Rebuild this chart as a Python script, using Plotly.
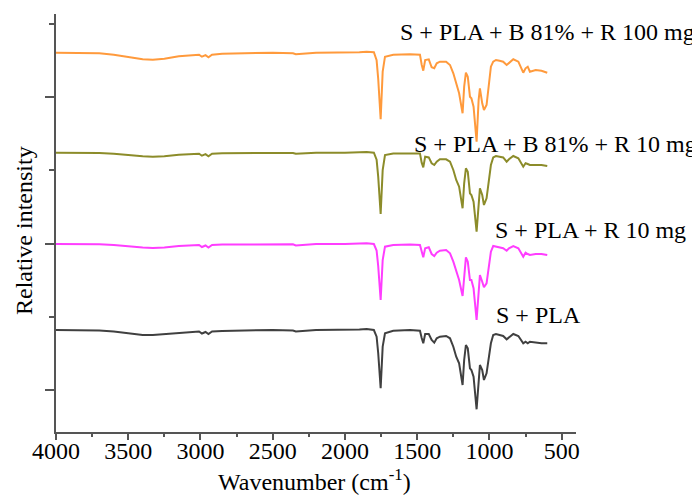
import numpy as np
import plotly.graph_objects as go

# Wavenumber grid (cm-1) shared by all spectra
wavenumber = [4000, 3900, 3800, 3700, 3600, 3500, 3400, 3330, 3250, 3150, 3050, 3010, 2990, 2965,
              2945, 2920, 2850, 2700, 2500, 2360, 2340, 2200, 2000, 1900, 1850, 1800,
              1781, 1770, 1753, 1739, 1723, 1666, 1550, 1481, 1469, 1458, 1445, 1420, 1400, 1382,
              1365, 1343, 1300, 1273, 1250, 1230, 1210, 1186, 1175, 1163, 1150, 1135, 1125, 1110,
              1089, 1075, 1066, 1050, 1038, 1020, 1008, 990, 974, 955, 930, 905, 881, 865, 835,
              800, 766, 750, 735, 720, 680, 640, 600]

# Absorption depth below each spectrum's baseline (a.u.)
depth_s_pla = [0, 0, 0, 0.5, 1.5, 3.5, 5, 5, 4, 2.5, 1.5, 1.5, 3.5, 2, 4, 1.5, 1, 0.5, 0, 0.5, 1.5, 0, 0, -0.5, -1, 0,
               6.7, 23, 58.3, 16.7, 3.3, 0.7, 0, 0.7, 8, 13.3, 4, 4, 10, 12.7, 8.3, 6.7, 6, 8.3, 16.7, 26.7,
               33.3, 55, 30, 15, 18.3, 38.3, 40, 46.7, 79.3, 46.7, 35, 40, 50, 43.3, 30, 13.3, 5, 4, 5, 6,
               9.3, 7.3, 4, 6, 13.3, 11.7, 13.3, 11.7, 12.7, 13.3, 13.3]
depth_s_pla_r10 = [0, 0, 0, 0.3, 1, 2.5, 3.5, 4, 3.5, 2, 1, 1, 3, 1.5, 3.5, 1, 0.5, 0.3, 0, 0.3, 1.5, 0, 0, -0.3, -0.8, 0,
                   6.5, 22, 56, 16, 2.7, 1, 0.5, 1, 9, 13.3, 4.3, 3.3, 10, 12, 8.7, 6.7, 6, 9.3, 17.7, 27.7,
                   36, 52, 29.3, 13.3, 17.7, 36, 36, 44.3, 76, 44.3, 31, 37.7, 43.3, 39.3, 26, 7.7, 2, 2.7, 3.3, 4.3,
                   6.7, 4.3, 2, 4.3, 12.7, 8.7, 10, 11, 10, 10, 11]
depth_s_pla_b_r10 = [0, 0, 0, 0.3, 1, 2.5, 3.5, 4, 3.5, 2, 1, 1, 3, 1.5, 3.5, 1, 0.5, 0.3, 0, 0.3, 1, 0, 0, -0.3, -0.8, 0,
                     7, 24, 61.3, 17.5, 2.3, 0.7, 0.5, 0.7, 10, 14.6, 4, 4.7, 10.6, 12.3, 9, 6.6, 6.6, 9, 17.3, 27.3,
                     34, 55.6, 30.6, 15.6, 19, 40.6, 42.3, 49, 79, 47.3, 35.6, 42.3, 52.3, 45.6, 30.6, 12.3, 4.7, 3.3, 4, 4.7,
                     9, 6.6, 3.3, 5.6, 14, 10.6, 11.3, 12.3, 12.3, 12.3, 13.3]
depth_s_pla_b_r100 = [0, 0, 0, 0.5, 2, 4.5, 6.5, 7, 6, 3.5, 2, 2, 4, 2.5, 4.5, 2, 1, 0.5, 0, 0.5, 1.5, 0, 0, -0.5, -1, -0.5,
                      7.6, 26, 66.6, 19, 4, 2, 1.5, 2, 12, 18, 7.3, 6.6, 14.6, 15.6, 10.6, 9, 9, 12.3, 20.6, 30.6,
                      40.6, 60.6, 34, 20, 24, 44, 45.6, 54, 89, 47.3, 35.6, 50.6, 57.3, 52.3, 34, 14, 9, 7.3, 8, 9,
                      12.3, 10, 6.6, 9, 20, 15.6, 14, 19, 17.3, 18, 20]

series_names = ["S + PLA", "S + PLA + R 10 mg", "S + PLA + B 81% + R 10 mg", "S + PLA + B 81% + R 100 mg"]
series_depths = [depth_s_pla, depth_s_pla_r10, depth_s_pla_b_r10, depth_s_pla_b_r100]
stack_offsets = [102, 188, 279.3, 379.3]
series_colors = ["#404040", "#ff3dff", "#8c8c2a", "#ff9a3c"]

FONT = "Liberation Serif, Times New Roman, serif"

fig = go.Figure()
for name, dep, off, col in zip(series_names, series_depths, stack_offsets, series_colors):
    fig.add_trace(go.Scatter(x=wavenumber, y=off - np.array(dep), mode="lines", name=name,
                             line=dict(color=col, width=2), showlegend=False))

# Labels next to the spectra
label_pos = [(0.842, 0.280), (0.840, 0.483), (0.684, 0.689), (0.6586, 0.957)]
for name, (lx, ly) in zip(series_names, label_pos):
    fig.add_annotation(text=name, xref="paper", yref="paper", x=lx, y=ly, xanchor="left",
                       yanchor="middle", showarrow=False, font=dict(family=FONT, size=24, color="black"))

fig.add_annotation(text="Wavenumber (cm<sup>-1</sup>)", xref="paper", yref="paper", x=0.498, y=-0.116,
                   xanchor="center", yanchor="middle", showarrow=False,
                   font=dict(family=FONT, size=24, color="black"))
fig.add_annotation(text="Relative intensity", xref="paper", yref="paper", x=-0.0615, y=0.481,
                   xanchor="center", yanchor="middle", textangle=-90, showarrow=False,
                   font=dict(family=FONT, size=24, color="black"))

fig.update_layout(
    width=700, height=495,
    margin=dict(l=48, r=132, t=6, b=71),
    paper_bgcolor="white", plot_bgcolor="white",
    xaxis=dict(range=[4000, 401], tickmode="linear", tick0=4000, dtick=500,
               ticks="outside", ticklen=6, tickwidth=2, tickcolor="#555",
               minor=dict(dtick=250, tick0=4000, ticks="outside", ticklen=3, tickwidth=2, tickcolor="#555"),
               showline=True, linecolor="#555", linewidth=2, showgrid=False, zeroline=False,
               ticklabelstandoff=-10,
               tickfont=dict(family=FONT, size=24, color="black")),
    yaxis=dict(range=[0, 418], tickmode="linear", tick0=42, dtick=146.4,
               ticks="outside", ticklen=9, tickwidth=2, tickcolor="#555",
               minor=dict(dtick=73.2, tick0=42, ticks="outside", ticklen=5, tickwidth=2, tickcolor="#555"),
               showticklabels=False,
               showline=True, linecolor="#555", linewidth=2, showgrid=False, zeroline=False),
)

fig.write_html("out.html")
